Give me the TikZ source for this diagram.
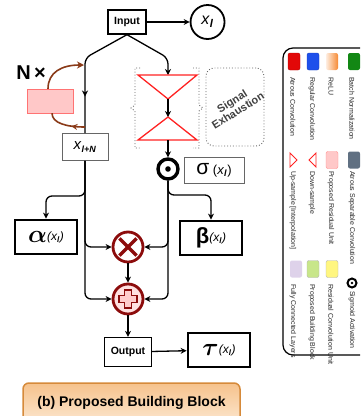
\documentclass[tikz,border=0pt]{standalone}
\usepackage{amsmath}
\usepackage{fontspec}
\setmainfont{Liberation Sans}
\usepackage{tikz}
\usetikzlibrary{arrows.meta, positioning, shapes.geometric, decorations.markings}
\definecolor{blockred}{RGB}{140,12,12}
\definecolor{armbrown}{RGB}{138,58,24}
\definecolor{trired}{RGB}{255,34,34}
\definecolor{capedge}{RGB}{214,138,58}
\definecolor{captop}{RGB}{246,194,140}
\definecolor{capbot}{RGB}{253,238,220}
\definecolor{lgred}{RGB}{226,8,8}
\definecolor{lgblue}{RGB}{30,80,235}
\definecolor{lgorange}{RGB}{246,138,52}
\definecolor{lggreen}{RGB}{18,135,20}
\definecolor{lgpink}{RGB}{255,200,200}
\definecolor{lgslate}{RGB}{96,112,130}
\definecolor{lglilac}{RGB}{222,210,234}
\definecolor{lglime}{RGB}{200,230,138}
\definecolor{lgyellow}{RGB}{255,246,128}
\newcommand{\xl}{\textit{x}\textsubscript{\textbf{\textit{l}}}}
\newcommand{\argxl}{{\fontsize{12}{12}\selectfont\raisebox{0.3ex}{\textit{(\xl)}}}}

\begin{document}
\begin{tikzpicture}[x=1pt, y=-1pt,
  plainbox/.style={rectangle, draw, line width=1.3pt, fill=white, inner sep=0pt,
                   font=\bfseries\fontsize{10.5}{12}\selectfont},
  thinbox/.style={rectangle, draw=black!60, line width=0.8pt, fill=white, inner sep=0pt},
  heavybox/.style={rectangle, draw, line width=2.8pt, fill=white, inner sep=0pt,
                   minimum width=62pt, minimum height=34pt},
  conn/.style={line width=1.3pt, rounded corners=6pt},
  arrow/.style={conn, -{Stealth[length=6pt, width=6pt]}},
  midarrow/.style={postaction={decorate}, decoration={markings,
                   mark=at position #1 with {\arrow{Stealth[length=6pt, width=6pt]}}}},
  midarrow/.default=0.5,
  armline/.style={armbrown, line width=1.6pt},
  tri/.style={draw=trired, line width=1.3pt, fill=white},
  brace/.style={dotted, black!60, line width=0.9pt},
  sigmoid/.style={circle, draw, line width=3.4pt, minimum size=20pt, inner sep=0pt, fill=white,
                  path picture={\fill[black] (path picture bounding box.center) circle (2.8pt);}},
  opcircle/.style={circle, draw=blockred, line width=2.8pt, fill=white, minimum size=30pt, inner sep=0pt},
  lgsq/.style={rectangle, rounded corners=2pt, minimum width=12pt, minimum height=17pt, inner sep=0pt},
  lgtxt/.style={rotate=-90, anchor=west, inner sep=0pt, text=black!85,
                font=\fontsize{7}{7}\selectfont}
]
\clip (0,0) rectangle (360,416);

% main path
\node[plainbox, minimum width=38pt, minimum height=24pt] (in) at (127,22) {Input};
\node[circle, draw, line width=1.8pt, minimum size=34pt, inner sep=0pt, right=43pt of in] (xl)
  {\fontsize{16}{16}\selectfont\xl};
\draw[arrow] (in) -- (xl);

\node[thinbox, minimum width=46pt, minimum height=27pt] (xN) at (85,147)
  {\fontsize{15}{15}\selectfont\textit{x}\textsubscript{\textbf{\textit{\fontsize{9}{9}\selectfont l+N}}}};
\coordinate (lbend) at (85,58);
\draw[conn, midarrow=0.7] (in.south) -- (lbend) -- (xN.north);

% residual loop
\node[rectangle, draw=red!55, fill=lgpink, minimum width=46pt, minimum height=24pt] (res) at (50,101) {};
\node[font=\bfseries\fontsize{20}{20}\selectfont] (nx) at (31,73) {N\,×};
\coordinate (armin) at (84,65);
\coordinate (armout) at (85,127);
\draw[armline, -{Stealth[length=7pt, width=7pt]}] ([xshift=-2pt]res.north) .. controls (48,72) and (62,65) .. (armin);
\draw[armline, midarrow=0.35] (armout) .. controls (66,127) and (52,123) .. ([xshift=2pt]res.south);

% signal exhaustion branch
\coordinate (dtop) at (168,75);
\coordinate (dapex) at (168,99);
\coordinate (uapex) at (168,117);
\coordinate (ubase) at (168,140);
\coordinate (rbend) at (168,58);
\draw[arrow] (in.south) -- (rbend) -- (dtop);
\draw[tri] (138,75) -- (197,75) -- (dapex) -- cycle;
\draw[tri] (uapex) -- (197,140) -- (138,140) -- cycle;
\draw[arrow] (dapex) -- (uapex);
\draw[brace] (140,68) -- (135,68) -- (135,105) -- (131,108) -- (135,111) -- (135,148) -- (140,148);
\draw[brace] (193,68) -- (199,68) -- (199,105) -- (203,108) -- (199,111) -- (199,148) -- (193,148);
\node[rectangle, rounded corners=8pt, draw=black!60, dotted, line width=0.9pt,
      minimum width=58pt, minimum height=78pt] (sebox) at (235,107) {};
\node[rotate=32, align=center, text=black!75, font=\bfseries\fontsize{11}{11}\selectfont] (setxt)
  at (235,106) {Signal\\Exhaustion};

\node[sigmoid] (sig) at (168,169) {};
\draw[arrow] (ubase) -- (sig);
\node[thinbox, minimum width=60pt, minimum height=26pt] (sigma) at (214,170)
  {\fontsize{21}{21}\selectfont σ\fontsize{13}{13}\selectfont\ (\xl)};

% alpha / beta
\node[heavybox] (alpha) at (46,237)
  {\fontsize{30}{30}\selectfont$\boldsymbol{\alpha}$\argxl};
\node[heavybox] (beta) at (211,238)
  {\fontsize{22}{22}\selectfont\textbf{β}\argxl};
\coordinate (lsplit) at (85,196);
\coordinate (rsplit) at (168,195);
\draw[arrow] (xN.south) -- (lsplit) -| (alpha.north);
\draw[arrow] (sig.south) -- (rsplit) -| (beta.north);

% merge
\node[opcircle] (mul) at (128,247) {};
\draw[blockred, line width=3.4pt] (mul.north east) ++(-3,3) -- ([shift={(3,-3)}]mul.south west);
\draw[blockred, line width=3.4pt] (mul.north west) ++(3,3) -- ([shift={(-3,-3)}]mul.south east);
\node[opcircle, fill=red!12] (add) at (128,299) {};
\draw[blockred, line width=1.4pt, fill=red!20]
  (124.5,290) -- (131.5,290) -- (131.5,295.5) -- (137,295.5) -- (137,302.5) -- (131.5,302.5)
  -- (131.5,308) -- (124.5,308) -- (124.5,302.5) -- (119,302.5) -- (119,295.5) -- (124.5,295.5) -- cycle;
\draw[arrow] (xN.south) |- (mul.west);
\draw[arrow] (sig.south) |- (mul.east);
\draw[arrow] (xN.south) |- (add.west);
\draw[arrow] (sig.south) |- (add.east);
\draw[arrow] (mul) -- (add);

\node[plainbox, minimum width=47pt, minimum height=29pt] (out) at (128,352) {Output};
\node[heavybox] (tau) at (219,350)
  {\fontsize{30}{30}\selectfont$\boldsymbol{\tau}$\argxl};
\draw[arrow] (add) -- (out);
\draw[arrow] (out) -- (tau);

% caption
\node[rectangle, rounded corners=6pt, draw=capedge, line width=1.5pt, top color=captop, bottom color=capbot,
      minimum width=217pt, minimum height=48pt] (cap) at (131.5,407) {};
\node[font=\bfseries\fontsize{14}{14}\selectfont] (captxt) at (131.5,403) {(b) Proposed Building Block};

% legend
\draw[line width=1.2pt, rounded corners=10pt] (283,48) rectangle (390,355);
\node[lgsq, fill=lgred, draw=lgred!80!black] (lg1) at (294,61.5) {};
\node[lgsq, fill=lgblue, draw=lgblue!80!black] (lg2) at (313,61.5) {};
\node[lgsq, left color=lgorange!15, right color=lgorange] (lg3) at (332,61.5) {};
\node[lgsq, fill=lggreen] (lg4) at (354,61.5) {};
\node[lgtxt] at (293,77) {Atrous Convolution};
\node[lgtxt] at (312,77) {Regular Convolution};
\node[lgtxt] at (331,77) {ReLU};
\node[lgtxt] at (352,77) {Batch Normalization};

\draw[draw=trired, line width=0.9pt] (290,153) -- (297,160) -- (290,167) -- cycle;
\draw[draw=trired, line width=0.9pt] (316,153) -- (309,160) -- (316,167) -- cycle;
\node[lgsq, fill=lgpink, draw=red!45] (lg7) at (332,160) {};
\node[lgsq, fill=lgslate] (lg8) at (354,160) {};
\node[lgtxt] at (293,171) {Up-sample [Interpolation]};
\node[lgtxt] at (312,171) {Down-sample};
\node[lgtxt] at (331,171) {Proposed Residual Unit};
\node[lgtxt] at (352,171) {Atrous Separable Convolution};

\node[lgsq, fill=lglilac] (lg9) at (296,269) {};
\node[lgsq, fill=lglime, draw=black!30] (lg10) at (313,269) {};
\node[lgsq, fill=lgyellow, draw=black!30] (lg11) at (332,269) {};
\node[circle, draw, line width=2pt, minimum size=9pt, inner sep=0pt,
      path picture={\fill[black] (path picture bounding box.center) circle (1.3pt);}] (lg12) at (352,283) {};
\node[lgtxt] at (293,284) {Fully Connected Layers};
\node[lgtxt] at (312,284) {Proposed Building Block};
\node[lgtxt] at (331,284) {Residual Convolution Unit};
\node[lgtxt] at (352,291) {Sigmoid Activation};
\end{tikzpicture}
\end{document}
